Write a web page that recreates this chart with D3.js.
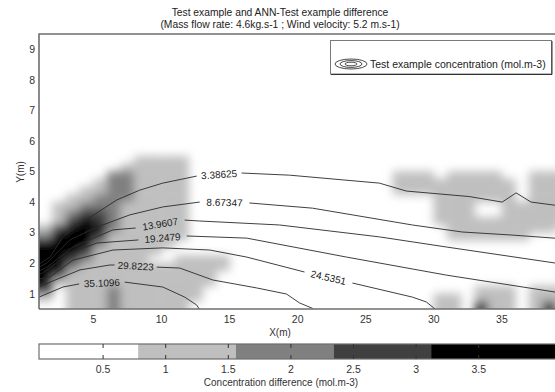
<!DOCTYPE html>
<html><head><meta charset="utf-8">
<script src="https://cdn.jsdelivr.net/npm/d3@7"></script>
<style>
body{margin:0;background:#fff}
svg{display:block}
text{font-family:"Liberation Sans",Arial,sans-serif;fill:#333}
</style>
</head><body>
<svg id="chart" width="555" height="392"></svg>
<script>
// ---------------- data ----------------
const titleLines = ["Test example and ANN-Test example difference",
                    "(Mass flow rate: 4.6kg.s-1 ; Wind velocity: 5.2 m.s-1)"];
const xLabel = "X(m)";
const yLabel = "Y(m)";
const cbLabel = "Concentration difference (mol.m-3)";
const legendLabel = "Test example concentration (mol.m-3)";
const xTicks = [5, 10, 15, 20, 25, 30, 35];
const yTicks = [1, 2, 3, 4, 5, 6, 7, 8, 9];
const cbTicks = [0.5, 1, 1.5, 2, 2.5, 3, 3.5];
const cbTickLabels = ["0.5", "1", "1.5", "2", "2.5", "3", "3.5"];
// colour classes of the difference map (lower bounds, mol.m-3)
const cbBreaks = [0.78, 1.56, 2.34, 3.12];
const cbBandStarts = [0, 0.78, 1.56, 2.34, 3.12];
const cbColors = ["#ffffff", "#bfbfbf", "#808080", "#404040", "#000000"];
// representative difference value of each class index used in the grid
const classValues = [0.3, 1.2, 1.9, 2.7, 3.6];

// difference grid: x cells from 1 m step 1 m, y rows from 0.5 m step 0.25 m
const DIFF_X0 = 1, DIFF_DX = 1, DIFF_Y0 = 0.5, DIFF_DY = 0.25;
// rows listed from top (y = 5.75..6.0) to bottom (y = 0.5..0.75); spaces only group columns
const diffRows = [
  "0000000000 0000000000 0000000000 000000000",
  "0000000000 0000000000 0000000000 000000000",
  "0000000111 1000000000 0000000000 000000000",
  "0000001111 1000000000 0000000000 000000000",
  "0000022111 1000000000 0000001110 111100111",
  "0000122111 1000000000 0000001111 111110111",
  "0001122111 1000000000 0000001111 111110111",
  "0011222111 1000000000 0000000001 111110111",
  "0112221111 1000000000 0000000001 110011111",
  "0123321111 1000000000 0000000001 110011111",
  "0134321111 1000000000 0000000001 111111111",
  "1344421111 1000000000 0000000000 111111110",
  "2444311111 1000000000 0000000000 111111000",
  "4444211111 0000000000 0000000000 000000000",
  "4443111110 0000000000 0000000000 000000000",
  "4432111100 1111000000 0000000000 000000000",
  "4421111111 1111000000 0000000000 000000000",
  "4311111111 1110000000 0000000000 000000000",
  "4111111111 1110000000 0000000000 000000000",
  "3011121111 1100000000 0000000000 001110111",
  "1011121111 1100000000 0000000001 101110111",
  "0011121111 1000000000 0000000001 103110131"
];

// contour lines of the test-example concentration: a = before label, b = after label
const contourLines = [
  {label: "3.38625",
   a: [[1.0,1.97],[1.81,2.20],[2.76,2.86],[4.23,3.35],[6.72,4.07],[8.40,4.39],[10.09,4.62],[12.58,4.85]],
   b: [[15.88,4.95],[19.40,4.88],[26.00,4.62],[27.98,4.36],[32.6,4.18],[35.02,4.00],[36.04,4.30],[37.14,4.00],[38.83,3.90],[40,3.84]]},
  {label: "8.67347",
   a: [[1.0,1.87],[1.59,2.01],[3.27,2.76],[5.25,3.18],[7.67,3.58],[10.09,3.84],[12.80,4.00]],
   b: [[16.45,3.97],[21.09,3.80],[28.42,3.25],[32.09,3.02],[35.75,2.92],[38.83,2.82],[40,2.79]]},
  {label: "13.9607",
   a: [[1.0,1.74],[1.59,1.87],[3.49,2.53],[6.43,3.09],[8.10,3.15]],
   b: [[11.70,3.41],[12.80,3.38],[18.67,3.25],[26.00,2.86],[30.91,2.53],[38.83,2.01],[40,1.94]]},
  {label: "19.2479",
   a: [[1.0,1.61],[1.59,1.78],[3.27,2.33],[5.25,2.66],[8.30,2.76]],
   b: [[11.85,2.89],[16.25,2.82],[23.58,2.20],[30.91,1.61],[38.83,1.06],[40,0.97]]},
  {label: "24.5351",
   a: [[1.0,1.48],[1.81,1.55],[3.49,2.10],[6.43,2.43],[10.09,2.50],[13.54,2.43],[16.25,2.20],[20.5,1.71]],
   b: [[24.02,1.35],[28.42,0.89],[29.45,0.73],[30.03,0.52],[30.2,0.45]]},
  {label: "29.8223",
   a: [[1.0,1.22],[1.81,1.38],[4.01,1.78],[6.21,1.94],[6.55,1.94]],
   b: [[9.65,1.87],[11.34,1.84],[13.76,1.45],[16.98,1.19],[19.18,0.99],[20.13,0.70],[21.09,0.52],[21.2,0.45]]},
  {label: "35.1096",
   a: [[1.0,0.89],[2.76,1.22],[3.95,1.32]],
   b: [[7.30,1.38],[10.09,1.22],[11.7,0.89],[12.58,0.63],[12.8,0.48]]}
];

// ---------------- layout ----------------
const svg = d3.select("#chart");
const plot = {left: 39, right: 570, top: 34, bottom: 309};
const x = d3.scaleLinear().domain([1, 40]).range([plot.left, plot.right]);
const y = d3.scaleLinear().domain([0.5, 9.5]).range([plot.bottom, plot.top]);
const color = d3.scaleThreshold().domain(cbBreaks).range(cbColors);

const defs = svg.append("defs");
defs.append("clipPath").attr("id", "plotClip")
  .append("rect").attr("x", plot.left).attr("y", plot.top)
  .attr("width", plot.right - plot.left).attr("height", plot.bottom - plot.top);
const blur = defs.append("filter").attr("id", "soft")
  .attr("filterUnits", "userSpaceOnUse")
  .attr("x", 0).attr("y", 0).attr("width", 600).attr("height", 392);
blur.append("feGaussianBlur").attr("stdDeviation", 4.8);

// difference map
const cells = [];
const rows = diffRows.map(r => r.replace(/ /g, ""));
const nRows = rows.length;
rows.forEach((row, k) => {
  const j = nRows - 1 - k;
  row.split("").forEach((ch, i) => {
    const cls = +ch;
    if (cls > 0) cells.push({i, j, x0: DIFF_X0 + i * DIFF_DX, y0: DIFF_Y0 + j * DIFF_DY,
                             v: classValues[cls], last: i === row.length - 1});
  });
});
const heatOuter = svg.append("g").attr("clip-path", "url(#plotClip)");
heatOuter.append("rect").attr("x", plot.left).attr("y", plot.top)
  .attr("width", plot.right - plot.left).attr("height", plot.bottom - plot.top).attr("fill", "#fff");
const heat = heatOuter.append("g").attr("filter", "url(#soft)");
heat.selectAll("rect.cell").data(cells).enter().append("rect")
  .attr("class", "cell")
  .attr("x", d => x(d.x0) - (d.i === 0 ? 16 : 0) - 0.3)
  .attr("y", d => y(d.y0 + DIFF_DY) - 0.3)
  .attr("width", d => x(d.x0 + DIFF_DX) - x(d.x0) + (d.i === 0 ? 16 : 0) + (d.last ? 20 : 0) + 0.6)
  .attr("height", d => y(d.y0) - y(d.y0 + DIFF_DY) + (d.j === 0 ? 16 : 0) + 0.6)
  .attr("fill", d => color(d.v));

// contours
const line = d3.line().x(d => x(d[0])).y(d => y(d[1]));
const cg = svg.append("g").attr("clip-path", "url(#plotClip)");
contourLines.forEach(c => {
  [c.a, c.b].forEach(seg => {
    cg.append("path").attr("d", line(seg)).attr("fill", "none")
      .attr("stroke", "#2a2a2a").attr("stroke-width", 0.9);
  });
});
const lg = svg.append("g");
contourLines.forEach(c => {
  const p = c.a[c.a.length - 1], q = c.b[0];
  const x1 = x(p[0]), y1 = y(p[1]), x2 = x(q[0]), y2 = y(q[1]);
  const ang = Math.atan2(y2 - y1, x2 - x1) * 180 / Math.PI;
  lg.append("text")
    .attr("transform", `translate(${(x1 + x2) / 2},${(y1 + y2) / 2}) rotate(${ang})`)
    .attr("text-anchor", "middle").attr("dy", "0.35em")
    .attr("font-size", 10).style("fill", "#222").text(c.label);
});

// frame
const frame = svg.append("g").attr("stroke", "#6e6e6e").attr("stroke-width", 1.6).attr("fill", "none");
frame.append("path").attr("d", `M${plot.left},${plot.bottom}V${plot.top}H${plot.right}`);
frame.append("path").attr("d", `M${plot.left},${plot.bottom}H${plot.right}`);

// tick labels
svg.append("g").selectAll("text").data(xTicks).enter().append("text")
  .attr("x", d => x(d)).attr("y", 323).attr("text-anchor", "middle")
  .attr("font-size", 10.5).text(d => d);
svg.append("g").selectAll("text").data(yTicks).enter().append("text")
  .attr("x", 35).attr("y", d => y(d)).attr("dy", "0.36em").attr("text-anchor", "end")
  .attr("font-size", 10.5).text(d => d);
svg.append("text").attr("x", 280).attr("y", 336).attr("text-anchor", "middle")
  .attr("font-size", 10).text(xLabel);
svg.append("text").attr("transform", "translate(24,172) rotate(-90)").attr("text-anchor", "middle")
  .attr("font-size", 10).text(yLabel);

// title
svg.append("g").selectAll("text").data(titleLines).enter().append("text")
  .attr("x", 280).attr("y", (d, i) => 15.5 + i * 12.5).attr("text-anchor", "middle")
  .attr("font-size", 10.3).style("fill", "#222").text(d => d);

// legend
const leg = svg.append("g");
leg.append("rect").attr("x", 330.5).attr("y", 40.5).attr("width", 221).attr("height", 33.5)
  .attr("fill", "#fff").attr("stroke", "#7a7a7a").attr("stroke-width", 1);
leg.append("path").attr("d", "M331,74.5H552V41").attr("fill", "none").attr("stroke", "#333").attr("stroke-width", 1);
[[16, 5], [11, 3.4], [6, 1.8]].forEach(r => {
  leg.append("ellipse").attr("cx", 351).attr("cy", 64).attr("rx", r[0]).attr("ry", r[1])
    .attr("fill", "none").attr("stroke", "#333").attr("stroke-width", 0.9);
});
leg.append("text").attr("x", 370).attr("y", 68).attr("font-size", 10.5).style("fill", "#222").text(legendLabel);

// colorbar
const cb = {top: 344, bottom: 359, left: 39, right: 570};
const cx = d3.scaleLinear().domain([0, 4]).range([40.5, 40.5 + 4 * 125.2]);
const bands = cbBandStarts.map((s, k) => ({s, e: k < cbBandStarts.length - 1 ? cbBandStarts[k + 1] : null, c: cbColors[k]}));
const cbg = svg.append("g");
cbg.selectAll("rect.band").data(bands).enter().append("rect").attr("class", "band")
  .attr("x", d => d.s === 0 ? cb.left : cx(d.s))
  .attr("y", cb.top)
  .attr("width", d => (d.e === null ? cb.right : cx(d.e)) - (d.s === 0 ? cb.left : cx(d.s)))
  .attr("height", cb.bottom - cb.top)
  .attr("fill", d => d.c);
cbg.append("rect").attr("x", cb.left).attr("y", cb.top).attr("width", cb.right - cb.left)
  .attr("height", cb.bottom - cb.top).attr("fill", "none").attr("stroke", "#6e6e6e").attr("stroke-width", 1.2);
cbg.selectAll("path.tk").data(cbTicks).enter().append("path").attr("class", "tk")
  .attr("d", d => `M${cx(d)},${cb.top}v4M${cx(d)},${cb.bottom}v-4`)
  .attr("stroke", "#333").attr("stroke-width", 1);
cbg.selectAll("text").data(cbTicks).enter().append("text")
  .attr("x", d => cx(d)).attr("y", 373).attr("text-anchor", "middle")
  .attr("font-size", 10.5).text((d, i) => cbTickLabels[i]);
svg.append("text").attr("x", 281).attr("y", 386).attr("text-anchor", "middle")
  .attr("font-size", 10).text(cbLabel);
</script>
</body></html>
